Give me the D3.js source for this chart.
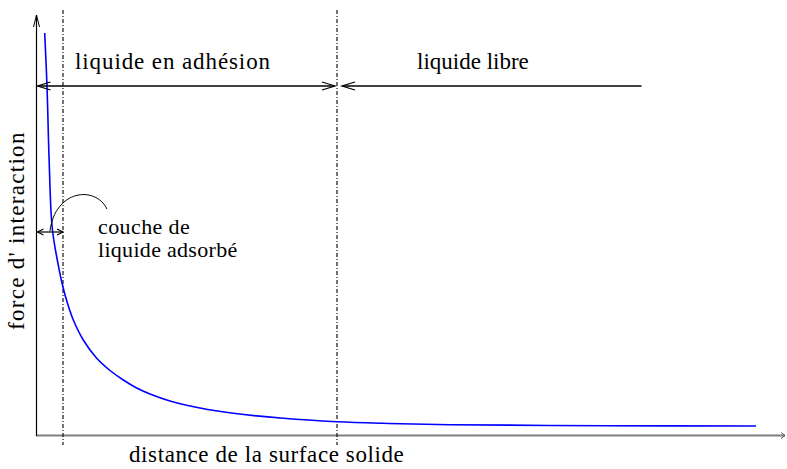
<!DOCTYPE html>
<html>
<head>
<meta charset="utf-8">
<script src="https://cdn.jsdelivr.net/npm/d3@7"></script>
<style>
  html, body { margin: 0; padding: 0; background: #fff; }
  svg { display: block; }
  text { font-family: "Liberation Serif", "Times New Roman", serif; fill: #000; }
</style>
</head>
<body>
<svg id="chart" width="787" height="469"></svg>
<script>
// Interaction force as a function of distance from the solid surface (arbitrary units)
const distance = [7.7, 10, 11.5, 13, 14.2, 15.7, 19, 25.7, 31, 36.3, 46.3, 59.7, 73, 86.3,
                  99.7, 113, 133, 163, 196.3, 246.3, 299.7, 346.3, 413, 569.7, 719];
const force    = [402, 349, 295, 248, 220, 203, 182, 149, 130, 115, 95, 76.7, 64.5, 55,
                  47, 41, 34, 27, 21.7, 16.7, 13.3, 11.7, 10.3, 9.3, 9];

// Zone boundaries: adsorbed layer thickness and end of the adhesion zone
const zoneBounds = [26, 300];
const zoneLabels = ["liquide en adhésion", "liquide libre"];
const layerLabel = ["couche de", "liquide adsorbé"];
const axisLabels = { x: "distance de la surface solide", y: "force d' interaction" };

const svg = d3.select("#chart");
const x = d3.scaleLinear().domain([0, 750]).range([37, 787]);
const y = d3.scaleLinear().domain([0, 420]).range([435, 15]);

const ink = "#000";

// open chevron arrow head with its tip at (tx, ty); dir +1 points right, -1 left
function chevronH(tx, ty, dir, len, half) {
  svg.append("path")
    .attr("d", `M${tx - dir * len},${ty - half} L${tx},${ty} L${tx - dir * len},${ty + half}`)
    .attr("fill", "none").attr("stroke", ink).attr("stroke-width", 1.2);
}

// x axis (grey) with small arrow head
svg.append("line")
  .attr("x1", x(-1)).attr("x2", x(748)).attr("y1", y(0) + 0.5).attr("y2", y(0) + 0.5)
  .attr("stroke", "#808080").attr("stroke-width", 2);
svg.append("path")
  .attr("d", `M${x(744)},${y(0) - 2.5} L${x(748)},${y(0) + 0.5} L${x(744)},${y(0) + 3.5}`)
  .attr("fill", "none").attr("stroke", "#555").attr("stroke-width", 1);

// y axis with open arrow head
svg.append("line")
  .attr("x1", x(0) - 0.5).attr("x2", x(0) - 0.5).attr("y1", y(0) + 1).attr("y2", y(420))
  .attr("stroke", ink).attr("stroke-width", 1.2);
svg.append("path")
  .attr("d", `M${x(0) - 3.5},${y(420) + 12} L${x(0) - 0.5},${y(420)} L${x(0) + 2.5},${y(420) + 12}`)
  .attr("fill", "none").attr("stroke", ink).attr("stroke-width", 1);

// dash-dot zone boundaries
zoneBounds.forEach(d => {
  svg.append("line")
    .attr("x1", x(d)).attr("x2", x(d)).attr("y1", y(425)).attr("y2", y(-10))
    .attr("stroke", ink).attr("stroke-width", 1.1)
    .attr("stroke-dasharray", "4,2,1,2");
});

// interaction force curve
const line = d3.line()
  .x((d, i) => x(distance[i]))
  .y(d => y(d))
  .curve(d3.curveCatmullRom.alpha(0.5));
svg.append("path")
  .datum(force)
  .attr("d", line)
  .attr("fill", "none")
  .attr("stroke", "#0000ff")
  .attr("stroke-width", 1.6);

// zone arrows
const arrowY = y(349);
svg.append("line").attr("x1", x(0.5)).attr("x2", x(298)).attr("y1", arrowY).attr("y2", arrowY)
  .attr("stroke", ink).attr("stroke-width", 1.3);
chevronH(x(0.5), arrowY, -1, 13, 4);
chevronH(x(298), arrowY, 1, 13, 4);
svg.append("line").attr("x1", x(305)).attr("x2", x(604.5)).attr("y1", arrowY).attr("y2", arrowY)
  .attr("stroke", ink).attr("stroke-width", 1.3);
chevronH(x(305), arrowY, -1, 13, 4);

// adsorbed layer thickness arrow
const layerY = y(203);
svg.append("line").attr("x1", x(0.5)).attr("x2", x(zoneBounds[0])).attr("y1", layerY).attr("y2", layerY)
  .attr("stroke", ink).attr("stroke-width", 1.2);
chevronH(x(0.5), layerY, -1, 6, 3);
chevronH(x(zoneBounds[0]), layerY, 1, 6, 3);

// leader from the layer to its label
svg.append("path")
  .attr("d", `M${x(13)},${y(204)} C${x(18)},${y(245)} ${x(58)},${y(250)} ${x(70)},${y(226)}`)
  .attr("fill", "none").attr("stroke", ink).attr("stroke-width", 1);

// labels
function label(txt, tx, ty, size, spacing) {
  return svg.append("text").attr("x", tx).attr("y", ty)
    .attr("font-size", size)
    .attr("letter-spacing", spacing)
    .text(txt);
}
label(zoneLabels[0], 75, 69, 23, 0.9);
label(zoneLabels[1], 417, 69, 23, 0);
label(layerLabel[0], 98, 234, 22, 0.4);
label(layerLabel[1], 98, 257, 22, 0.3);
label(axisLabels.x, 129, 462, 23, 0.6);

svg.append("text")
  .attr("transform", "translate(24,330) rotate(-90)")
  .attr("font-size", 23)
  .attr("letter-spacing", 1.3)
  .text(axisLabels.y);
</script>
</body>
</html>
